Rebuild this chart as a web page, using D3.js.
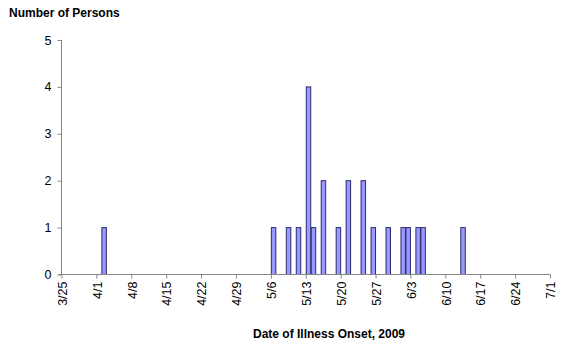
<!DOCTYPE html>
<html>
<head>
<meta charset="utf-8">
<script src="https://cdn.jsdelivr.net/npm/d3@7"></script>
<style>
  html, body { margin: 0; padding: 0; background: #fff; }
  svg { display: block; }
  text { font-family: Arial, "Liberation Sans", sans-serif; fill: #000; }
</style>
</head>
<body>
<svg id="chart" width="580" height="345"></svg>
<script>
// Onset dates (2009) and number of persons per date
const onsetDates = ["2009-04-02", "2009-05-06", "2009-05-09", "2009-05-11", "2009-05-13",
                    "2009-05-14", "2009-05-16", "2009-05-19", "2009-05-21", "2009-05-24",
                    "2009-05-26", "2009-05-29", "2009-06-01", "2009-06-02", "2009-06-04",
                    "2009-06-05", "2009-06-13"];
const persons = [1, 1, 1, 1, 4, 1, 2, 1, 2, 2, 1, 1, 1, 1, 1, 1, 1];

// Axis ticks
const dateTicks = ["2009-03-25", "2009-04-01", "2009-04-08", "2009-04-15", "2009-04-22",
                   "2009-04-29", "2009-05-06", "2009-05-13", "2009-05-20", "2009-05-27",
                   "2009-06-03", "2009-06-10", "2009-06-17", "2009-06-24", "2009-07-01"];
const yTicks = [0, 1, 2, 3, 4, 5];

const parse = d3.utcParse("%Y-%m-%d");
const fmt = d3.utcFormat("%-m/%-d");

const svg = d3.select("#chart");

const x = d3.scaleUtc()
  .domain([parse("2009-03-25"), parse("2009-07-01")])
  .range([61.5, 550]);
const y = d3.scaleLinear().domain([0, 5]).range([274.5, 40]);

const axisColor = "#868686";

// Bars: each covers one day
const bars = onsetDates.map((d, i) => ({ date: parse(d), n: persons[i] }));
svg.append("g")
  .selectAll("rect")
  .data(bars)
  .join("rect")
  .attr("x", d => x(d.date) + 0.5)
  .attr("y", d => y(d.n))
  .attr("width", d => x(d3.utcDay.offset(d.date, 1)) - x(d.date) - 0.5)
  .attr("height", d => y(0) - y(d.n))
  .attr("fill", "#9999ff")
  .attr("stroke", "#2a2a6e")
  .attr("stroke-width", 1);

// Y axis
const yAxis = svg.append("g")
  .attr("transform", `translate(${x.range()[0]},0)`)
  .call(d3.axisLeft(y).tickValues(yTicks).tickFormat(d3.format("d")).tickSize(4).tickPadding(6));
yAxis.select(".domain").attr("stroke", axisColor).attr("d", `M0,${y(5)}V${y(0)}`);
yAxis.selectAll(".tick line").attr("stroke", axisColor);
yAxis.selectAll(".tick text").attr("font-size", "12.5px").attr("fill", "#000")
  .attr("font-family", "Arial, 'Liberation Sans', sans-serif");

// X axis with rotated date labels
const xAxis = svg.append("g")
  .attr("transform", `translate(0,${y(0)})`)
  .call(d3.axisBottom(x).tickValues(dateTicks.map(parse)).tickFormat(fmt).tickSize(4).tickSizeOuter(0));
xAxis.select(".domain").attr("stroke", axisColor).attr("d", `M${x.range()[0] - 3},0H${x.range()[1]}`);
xAxis.selectAll(".tick line").attr("stroke", axisColor);
xAxis.selectAll(".tick text")
  .attr("font-size", "12.5px")
  .attr("fill", "#000")
  .attr("font-family", "Arial, 'Liberation Sans', sans-serif")
  .attr("text-anchor", "end")
  .attr("transform", "rotate(-90)")
  .attr("x", -7)
  .attr("y", 0)
  .attr("dy", "0.38em");

// Axis titles
svg.append("text")
  .attr("x", 9).attr("y", 17)
  .attr("font-size", "12px").attr("font-weight", "bold")
  .text("Number of Persons");

svg.append("text")
  .attr("x", 329).attr("y", 338)
  .attr("text-anchor", "middle")
  .attr("font-size", "12px").attr("font-weight", "bold")
  .text("Date of Illness Onset, 2009");
</script>
</body>
</html>
